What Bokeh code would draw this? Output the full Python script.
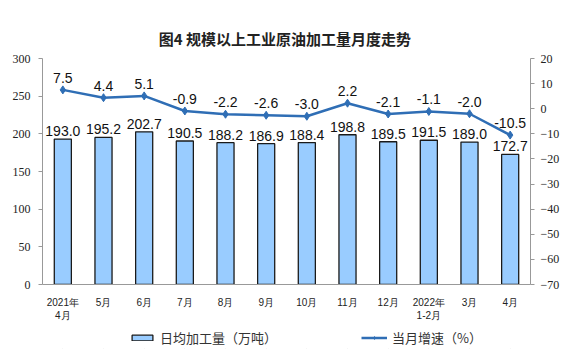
from bokeh.plotting import figure
from bokeh.layouts import column
from bokeh.models import Range1d, LinearAxis, SingleIntervalTicker, ColumnDataSource, Legend, LegendItem, FactorRange
from bokeh.core.properties import value
from bokeh.embed import file_html
from bokeh.resources import INLINE

months = ["2021年\n4月", "5月", "6月", "7月", "8月", "9月", "10月", "11月", "12月", "2022年\n1-2月", "3月", "4月"]
daily = [193.0, 195.2, 202.7, 190.5, 188.2, 186.9, 188.4, 198.8, 189.5, 191.5, 189.0, 172.7]
growth = [7.5, 4.4, 5.1, -0.9, -2.2, -2.6, -3.0, 2.2, -2.1, -1.1, -2.0, -10.5]
series_names = ["日均加工量（万吨）", "当月增速（%）"]

BAR_FILL = "#99CCFF"
BAR_LINE = "#1a1a1a"
LINE_COL = "#2F6EB5"

src = ColumnDataSource(dict(
    m=months, d=daily, g=growth,
    dl=[f"{v:.1f}" for v in daily],
    gl=[f"{v:.1f}" for v in growth],
))

CJK = "Noto Sans CJK SC"
p = figure(frame_width=488, frame_height=226, x_range=FactorRange(*months), y_range=Range1d(0, 300),
           output_backend="svg", toolbar_location=None,
           min_border_left=42, min_border_right=39, min_border_top=58, min_border_bottom=34)
p.extra_y_ranges = {"r": Range1d(-70, 20)}

p.title.text = "图4  规模以上工业原油加工量月度走势"
p.title.align = "center"
p.title.text_font = CJK
p.title.text_font_size = "15px"
p.title.text_font_style = "bold"
p.title.text_color = "#222222"
p.title.standoff = 20

p.outline_line_color = None
p.xgrid.grid_line_color = None
p.ygrid.grid_line_color = None

p.vbar(x="m", top="d", width=0.42, source=src, fill_color=BAR_FILL,
       line_color=BAR_LINE, line_width=1.3)
p.line(x="m", y="g", source=src, y_range_name="r", line_color=LINE_COL, line_width=2.5)
p.scatter(x="m", y="g", source=src, y_range_name="r", marker="diamond", size=8,
          fill_color=LINE_COL, line_color=LINE_COL)

p.text(x="m", y="d", text="dl", source=src, text_align="center", text_baseline="bottom",
       y_offset=-3, text_font=value("Liberation Sans"), text_font_size="14px", text_color="#111111")
p.text(x="m", y="g", text="gl", source=src, y_range_name="r", text_align="center",
       text_baseline="bottom", y_offset=-7, text_font=value("Liberation Sans"),
       text_font_size="14px", text_color="#111111")

ax = p.yaxis[0]
ax.ticker = SingleIntervalTicker(interval=50)
ax.major_label_text_font = "Liberation Serif"
ax.major_label_text_font_size = "12px"
ax.major_label_text_color = "#222222"
ax.axis_line_color = "#999999"
ax.major_tick_line_color = "#999999"
ax.major_tick_in = 0
ax.major_tick_out = 4
ax.minor_tick_line_color = None
ax.major_label_standoff = 8

rax = LinearAxis(y_range_name="r", ticker=SingleIntervalTicker(interval=10))
rax.major_label_text_font = "Liberation Serif"
rax.major_label_text_font_size = "12px"
rax.major_label_text_color = "#222222"
rax.axis_line_color = "#999999"
rax.major_tick_line_color = "#999999"
rax.major_tick_in = 0
rax.major_tick_out = 4
rax.minor_tick_line_color = None
rax.major_label_standoff = 6
p.add_layout(rax, "right")

xa = p.xaxis[0]
xa.major_label_text_font = "Liberation Sans"
xa.major_label_text_font_size = "10px"
xa.major_label_text_color = "#222222"
xa.axis_line_color = "#999999"
xa.major_tick_line_color = None
xa.major_label_standoff = 6

# legend strip as its own small figure; its series lie outside its visible range
lf = figure(width=569, height=26, output_backend="svg", toolbar_location=None,
            min_border=0, x_range=FactorRange(*months), y_range=Range1d(1000, 1001))
lf.axis.visible = False
lf.grid.visible = False
lf.outline_line_color = None
lb = lf.vbar(x="m", top="d", width=0.0001, source=src, fill_color=BAR_FILL, line_color=BAR_LINE, line_width=1.3)
ll = lf.line(x="m", y="g", source=src, line_color=LINE_COL, line_width=2.5)
lp = lf.scatter(x="m", y="g", source=src, marker="diamond", size=6, fill_color=LINE_COL, line_color=LINE_COL)
legend = Legend(items=[LegendItem(label=series_names[0], renderers=[lb]),
                       LegendItem(label=series_names[1], renderers=[ll, lp])],
                orientation="horizontal", location=(87, 2),
                glyph_width=26, glyph_height=7, spacing=84, label_height=14, label_standoff=5,
                label_text_font=CJK, label_text_font_size="13px", label_text_color="#333333",
                border_line_color=None, background_fill_alpha=0, margin=0, padding=0)
lf.add_layout(legend, "center")

open("out.html", "w").write(file_html(column(p, lf, spacing=0), INLINE))
